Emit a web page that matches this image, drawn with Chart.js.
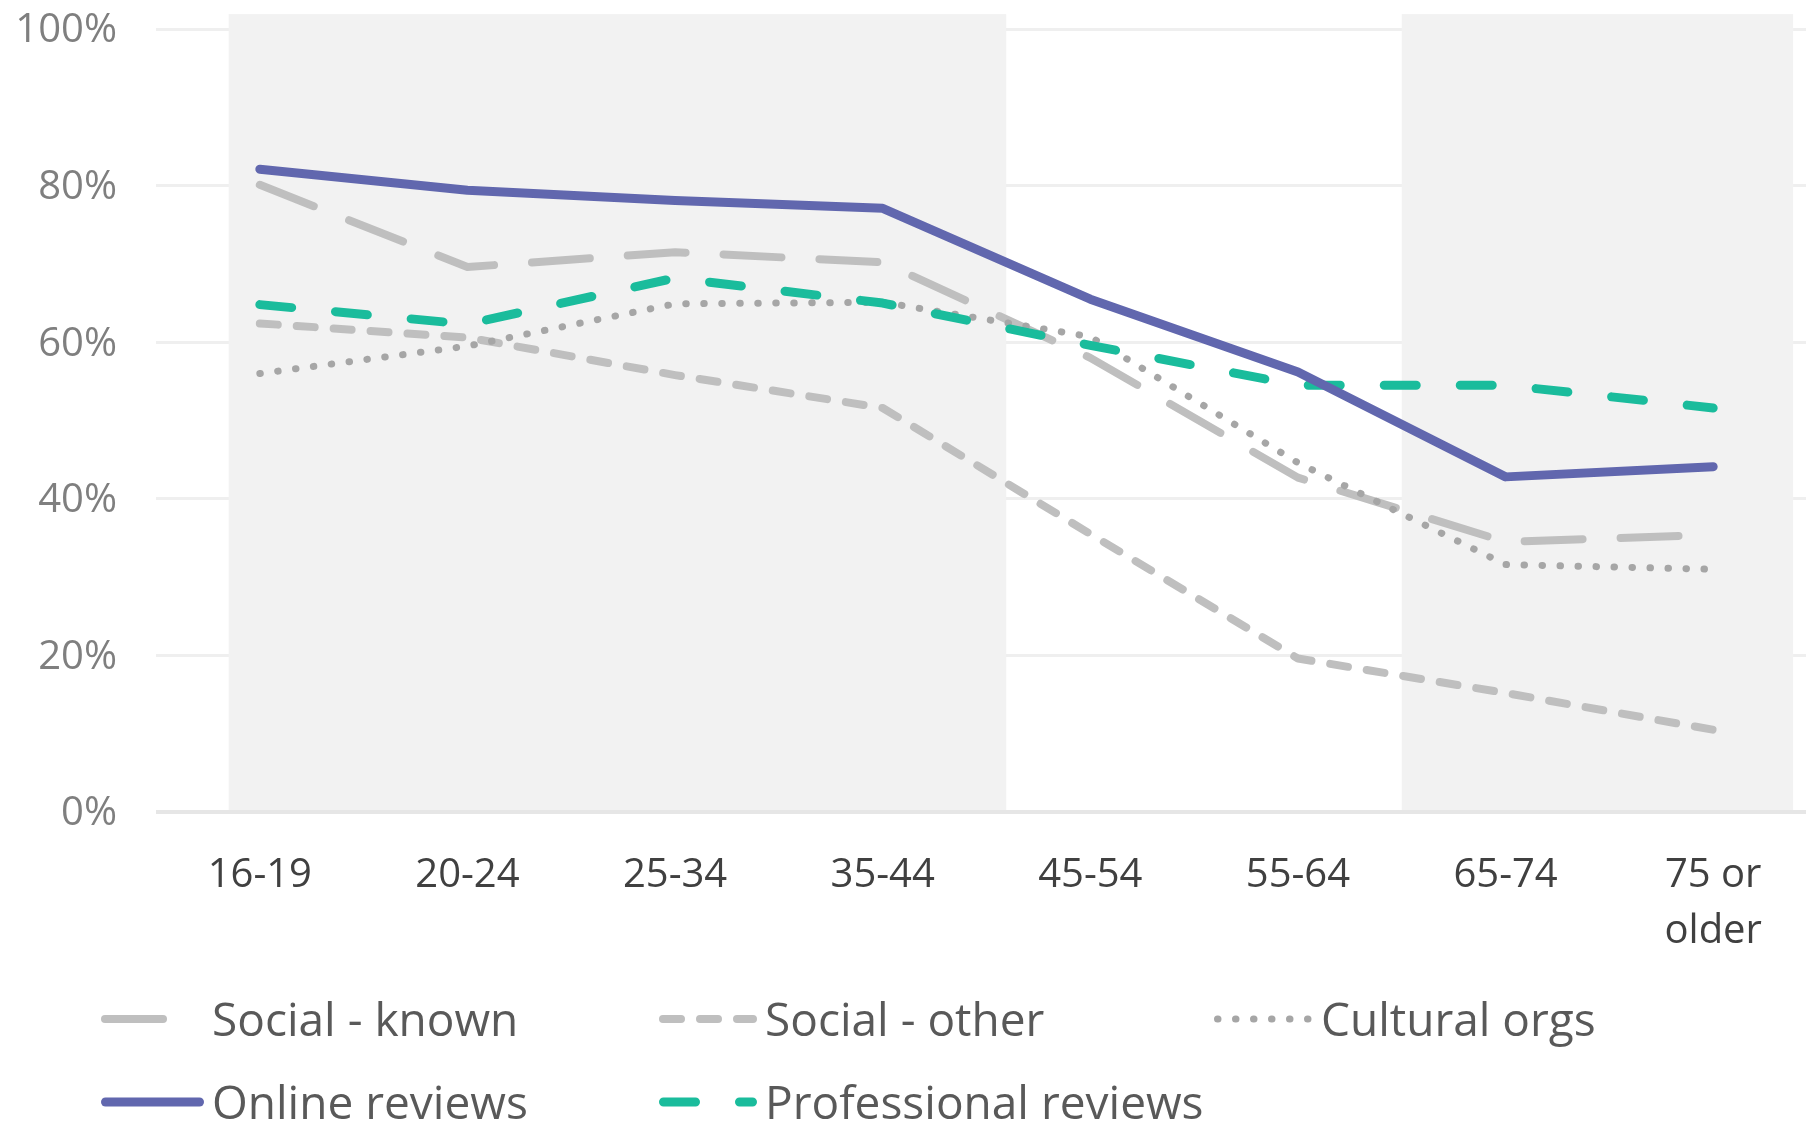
<!DOCTYPE html>
<html>
<head>
<meta charset="utf-8">
<script src="https://cdn.jsdelivr.net/npm/chart.js@4/dist/chart.umd.min.js"></script>
<style>
  html, body { margin: 0; padding: 0; background: #ffffff; overflow: hidden; }
  #wrap { position: absolute; left: 0; top: 0; width: 1817px; height: 1124px; }
  #legend { position: absolute; left: 0; top: 0; width: 1806px; height: 1124px; pointer-events: none;
            font-family: 'Open Sans', sans-serif; font-size: 46px; color: #595959; }
  .lg-item { position: absolute; height: 60px; }
  .lg-item svg { position: absolute; left: 0; top: 0; overflow: visible; }
  .lg-item span { position: absolute; top: 0; line-height: 60px; white-space: nowrap; }
</style>
</head>
<body>
<div id="wrap"><canvas id="chart"></canvas></div>
<div id="legend"></div>
<script>
// Age bands on the x axis
const ageGroups = ['16-19', '20-24', '25-34', '35-44', '45-54', '55-64', '65-74', ['75 or', 'older']];

// Share of each age group using each source (%)
const socialKnown         = [80.1, 69.6, 71.5, 70.2, 58.0, 42.7, 34.5, 35.4];
const socialOther         = [62.4, 60.6, 55.8, 51.6, 35.5, 19.6, 15.2, 10.5];
const culturalOrgs        = [56.0, 59.5, 64.9, 65.1, 60.7, 44.6, 31.6, 31.0];
const onlineReviews       = [82.1, 79.4, 78.1, 77.1, 65.5, 56.2, 42.8, 44.1];
const professionalReviews = [64.8, 62.3, 68.2, 65.0, 59.6, 54.5, 54.5, 51.6];

const seriesNames = ['Social - known', 'Social - other', 'Cultural orgs', 'Online reviews', 'Professional reviews'];

// Shaded background spans, in category-index units
const shadedSpans = [[-0.15, 3.595], [5.5, 7.385]];
const shadeTop = 101.9;

const styles = [
  { color: '#bfbfbf', width: 8, dash: [58, 38], order: 5 },
  { color: '#bfbfbf', width: 8, dash: [18, 19], order: 4 },
  { color: '#a6a6a6', width: 7, dash: [0.5, 17.5], order: 3 },
  { color: '#6167ae', width: 9, dash: [], order: 1 },
  { color: '#1abc9c', width: 9, dash: [32, 44], order: 2 }
];
const seriesValues = [socialKnown, socialOther, culturalOrgs, onlineReviews, professionalReviews];

const datasets = seriesNames.map((name, i) => ({
  label: name,
  data: seriesValues[i],
  borderColor: styles[i].color,
  backgroundColor: styles[i].color,
  borderWidth: styles[i].width,
  borderDash: styles[i].dash,
  borderCapStyle: 'round',
  borderJoinStyle: 'round',
  pointRadius: 0,
  pointHoverRadius: 0,
  tension: 0,
  fill: false,
  order: styles[i].order
}));

// Light grey background panels behind the lines
const shadePlugin = {
  id: 'shade',
  beforeDatasetsDraw(chart) {
    const { ctx, scales: { x, y } } = chart;
    ctx.save();
    ctx.fillStyle = '#f2f2f2';
    shadedSpans.forEach(([a, b]) => {
      const x1 = x.getPixelForValue(a);
      const x2 = x.getPixelForValue(b);
      const y1 = y.getPixelForValue(shadeTop);
      const y2 = y.getPixelForValue(0) - 2;
      ctx.fillRect(x1, y1, x2 - x1, y2 - y1);
    });
    ctx.restore();
  }
};

function noEdgePadding(scale) {
  scale.paddingTop = 0;
  scale.paddingBottom = 0;
  scale.paddingLeft = 0;
  scale.paddingRight = 0;
}

Chart.defaults.font.family = "'Open Sans', sans-serif";

new Chart(document.getElementById('chart'), {
  type: 'line',
  data: { labels: ageGroups, datasets },
  plugins: [shadePlugin],
  options: {
    responsive: true,
    maintainAspectRatio: false,
    animation: false,
    events: [],
    layout: { padding: { left: 16, top: 29, right: 0, bottom: 0 } },
    plugins: { legend: { display: false }, tooltip: { enabled: false } },
    scales: {
      x: {
        offset: true,
        grid: { display: false, drawTicks: false },
        border: { display: false },
        ticks: {
          color: '#404040',
          font: { size: 40, lineHeight: 1.4 },
          padding: 36,
          maxRotation: 0,
          autoSkip: false
        },
        afterFit(scale) { scale.height = 312; noEdgePadding(scale); }
      },
      y: {
        min: 0,
        max: 100,
        grid: {
          drawTicks: false,
          color: (c) => (c.tick && c.tick.value === 0 ? '#e6e6e6' : '#efefef'),
          lineWidth: (c) => (c.tick && c.tick.value === 0 ? 4 : 3)
        },
        border: { display: false },
        ticks: {
          stepSize: 20,
          color: '#7f7f7f',
          font: { size: 40 },
          padding: 39,
          labelOffset: 2,
          callback: (v) => v + '%'
        },
        afterFit(scale) { scale.width = 140; noEdgePadding(scale); }
      }
    }
  }
});

// Legend: three columns, two rows
const legendSlots = [
  { col: 0, row: 0 }, { col: 1, row: 0 }, { col: 2, row: 0 },
  { col: 0, row: 1 }, { col: 1, row: 1 }
];
const colSwatch = [101, 659, 1214];
const colText = [212, 765, 1321];
const rowTop = [988, 1071];
const legend = document.getElementById('legend');
seriesNames.forEach((name, i) => {
  const s = styles[i];
  const slot = legendSlots[i];
  const item = document.createElement('div');
  item.className = 'lg-item';
  item.style.left = colSwatch[slot.col] + 'px';
  item.style.top = rowTop[slot.row] + 'px';
  const len = colText[slot.col] - colSwatch[slot.col] - 8;
  const half = s.width / 2;
  const svgNS = 'http://www.w3.org/2000/svg';
  const svg = document.createElementNS(svgNS, 'svg');
  svg.setAttribute('width', len);
  svg.setAttribute('height', 60);
  const line = document.createElementNS(svgNS, 'line');
  line.setAttribute('x1', half);
  line.setAttribute('x2', len - half);
  line.setAttribute('y1', 31);
  line.setAttribute('y2', 31);
  line.setAttribute('stroke', s.color);
  line.setAttribute('stroke-width', s.width);
  line.setAttribute('stroke-linecap', 'round');
  if (s.dash.length) line.setAttribute('stroke-dasharray', s.dash.join(' '));
  svg.appendChild(line);
  item.appendChild(svg);
  const label = document.createElement('span');
  label.style.left = (colText[slot.col] - colSwatch[slot.col]) + 'px';
  label.textContent = name;
  item.appendChild(label);
  legend.appendChild(item);
});
</script>
</body>
</html>
